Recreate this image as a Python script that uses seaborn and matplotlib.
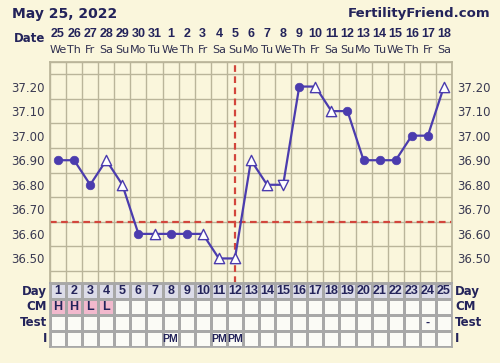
import numpy as np
import pandas as pd
import seaborn as sns
import matplotlib
matplotlib.use("Agg")
import matplotlib.pyplot as plt
from matplotlib.colors import ListedColormap

# chart data
days = list(range(1, 26))
dates = ["25", "26", "27", "28", "29", "30", "31", "1", "2", "3", "4", "5", "6",
         "7", "8", "9", "10", "11", "12", "13", "14", "15", "16", "17", "18"]
weekdays = ["We", "Th", "Fr", "Sa", "Su", "Mo", "Tu"] * 4
temps = [36.90, 36.90, 36.80, 36.90, 36.80, 36.60, 36.60, 36.60, 36.60, 36.60,
         36.50, 36.50, 36.90, 36.80, 36.80, 37.20, 37.20, 37.10, 37.10, 36.90,
         36.90, 36.90, 37.00, 37.00, 37.20]
# o = filled circle, ^ = open triangle, v = open down triangle
marks = ["o", "o", "o", "^", "^", "o", "^", "o", "o", "^", "^", "^", "^", "^",
         "v", "o", "^", "^", "o", "o", "o", "o", "o", "o", "^"]
temp_ticks = [36.50, 36.60, 36.70, 36.80, 36.90, 37.00, 37.10, 37.20]
coverline = 36.65
ovulation_day = 12
cm = ["H", "H", "L", "L"] + [""] * 21
test = [""] * 23 + ["-", ""]
intercourse = [""] * 7 + ["PM", "", "", "PM", "PM"] + [""] * 13
row_names = ["Day", "CM", "Test", "I"]

W, H = 500, 363
bg = "#faf6dc"
navy = "#23235a"
line_c = "#4b3cae"
grid_c = "#bab59a"
red = "#d2463c"
narrow = ["Liberation Sans", "DejaVu Sans"]

sns.set_theme(style="white")
plt.rcParams["font.family"] = ["DejaVu Sans"]

fig = plt.figure(figsize=(W / 100, H / 100), dpi=100, facecolor=bg)


def fx(px):
    return px / W


def fy(py):
    return 1 - py / H


# temperature panel
ax = fig.add_axes([fx(50), fy(283), fx(402), 221 / H])
ax.set_facecolor(bg)
df = pd.DataFrame({"day": days, "temp": temps, "mark": marks})
sns.lineplot(data=df, x="day", y="temp", color=line_c, lw=1.6, ax=ax, zorder=3)
sub = df[df["mark"] == "o"]
sns.scatterplot(data=sub, x="day", y="temp", marker="o", s=38, color=line_c,
                edgecolor=line_c, ax=ax, zorder=4)
for m in ["^", "v"]:
    sub = df[df["mark"] == m]
    sns.scatterplot(data=sub, x="day", y="temp", marker=m, s=55, facecolor="white",
                    edgecolor=line_c, linewidth=1.0, ax=ax, zorder=4)

ax.axhline(coverline, color=red, ls=(0, (3, 2)), lw=1.6, zorder=2)
ax.axvline(ovulation_day, color=red, ls=(0, (3, 2)), lw=1.6, zorder=2)

ax.set_xlim(0.5, 25.5)
ax.set_ylim(36.40, 37.30)
ax.set_xticks([])
ax.set_xticks(np.arange(0.5, 26, 1), minor=True)
ax.set_yticks(temp_ticks)
ax.set_yticklabels([f"{t:.2f}" for t in temp_ticks])
ax.set_yticks(np.arange(36.40, 37.31, 0.05), minor=True)
ax.grid(which="minor", color=grid_c, lw=1.0)
ax.tick_params(which="both", length=0, labelright=True, labelsize=8.5,
               labelcolor="#3a3a52", pad=4)
ax.set_xlabel("")
ax.set_ylabel("")
for s in ax.spines.values():
    s.set_color(grid_c)

# table panel
tax = fig.add_axes([fx(50), fy(347), fx(402), 64 / H])
codes = np.array([[0] * 25,
                  [1 if c else 2 for c in cm],
                  [2] * 25,
                  [2] * 25])
labels = np.array([[str(d) for d in days], cm, test, intercourse])
sns.heatmap(codes, ax=tax, cmap=ListedColormap(["#dcdce8", "#f2b9cd", "#fbfbf6"]),
            vmin=0, vmax=2, cbar=False, annot=labels, fmt="",
            annot_kws={"color": navy, "fontsize": 9, "fontweight": "bold",
                       "family": narrow},
            linewidths=0.8, linecolor="#a8a8a8", xticklabels=False, yticklabels=False)
# the PM marks are squeezed a little so neighbours do not touch
for t in tax.texts:
    if t.get_text() == "PM":
        t.set_fontsize(7.5)
for s in ["left", "right", "bottom", "top"]:
    tax.spines[s].set_visible(True)
    tax.spines[s].set_color("#a8a8a8")
for i, name in enumerate(row_names):
    py = 291 + i * 16
    fig.text(fx(47), fy(py), name, ha="right", va="center", fontsize=8.5,
             fontweight="bold", color=navy)
    fig.text(fx(455), fy(py), name, ha="left", va="center", fontsize=8.5,
             fontweight="bold", color=navy)

# header
fig.text(fx(12), fy(14), "May 25, 2022", ha="left", va="center", fontsize=10,
         fontweight="bold", color=navy)
fig.text(fx(490), fy(14), "FertilityFriend.com", ha="right", va="center",
         fontsize=9.5, fontweight="bold", color=navy)
fig.text(fx(45), fy(38), "Date", ha="right", va="center", fontsize=8.5,
         fontweight="bold", color=navy)
for i, (d, wd) in enumerate(zip(dates, weekdays)):
    px = 50 + (i + 0.5) * 402 / 25
    fig.text(fx(px), fy(34), d, ha="center", va="center", fontsize=9,
             fontweight="bold", color=navy, family=narrow)
    fig.text(fx(px), fy(50), wd, ha="center", va="center", fontsize=8,
             color="#303050")

fig.savefig("out.png", dpi=100, facecolor=bg)
